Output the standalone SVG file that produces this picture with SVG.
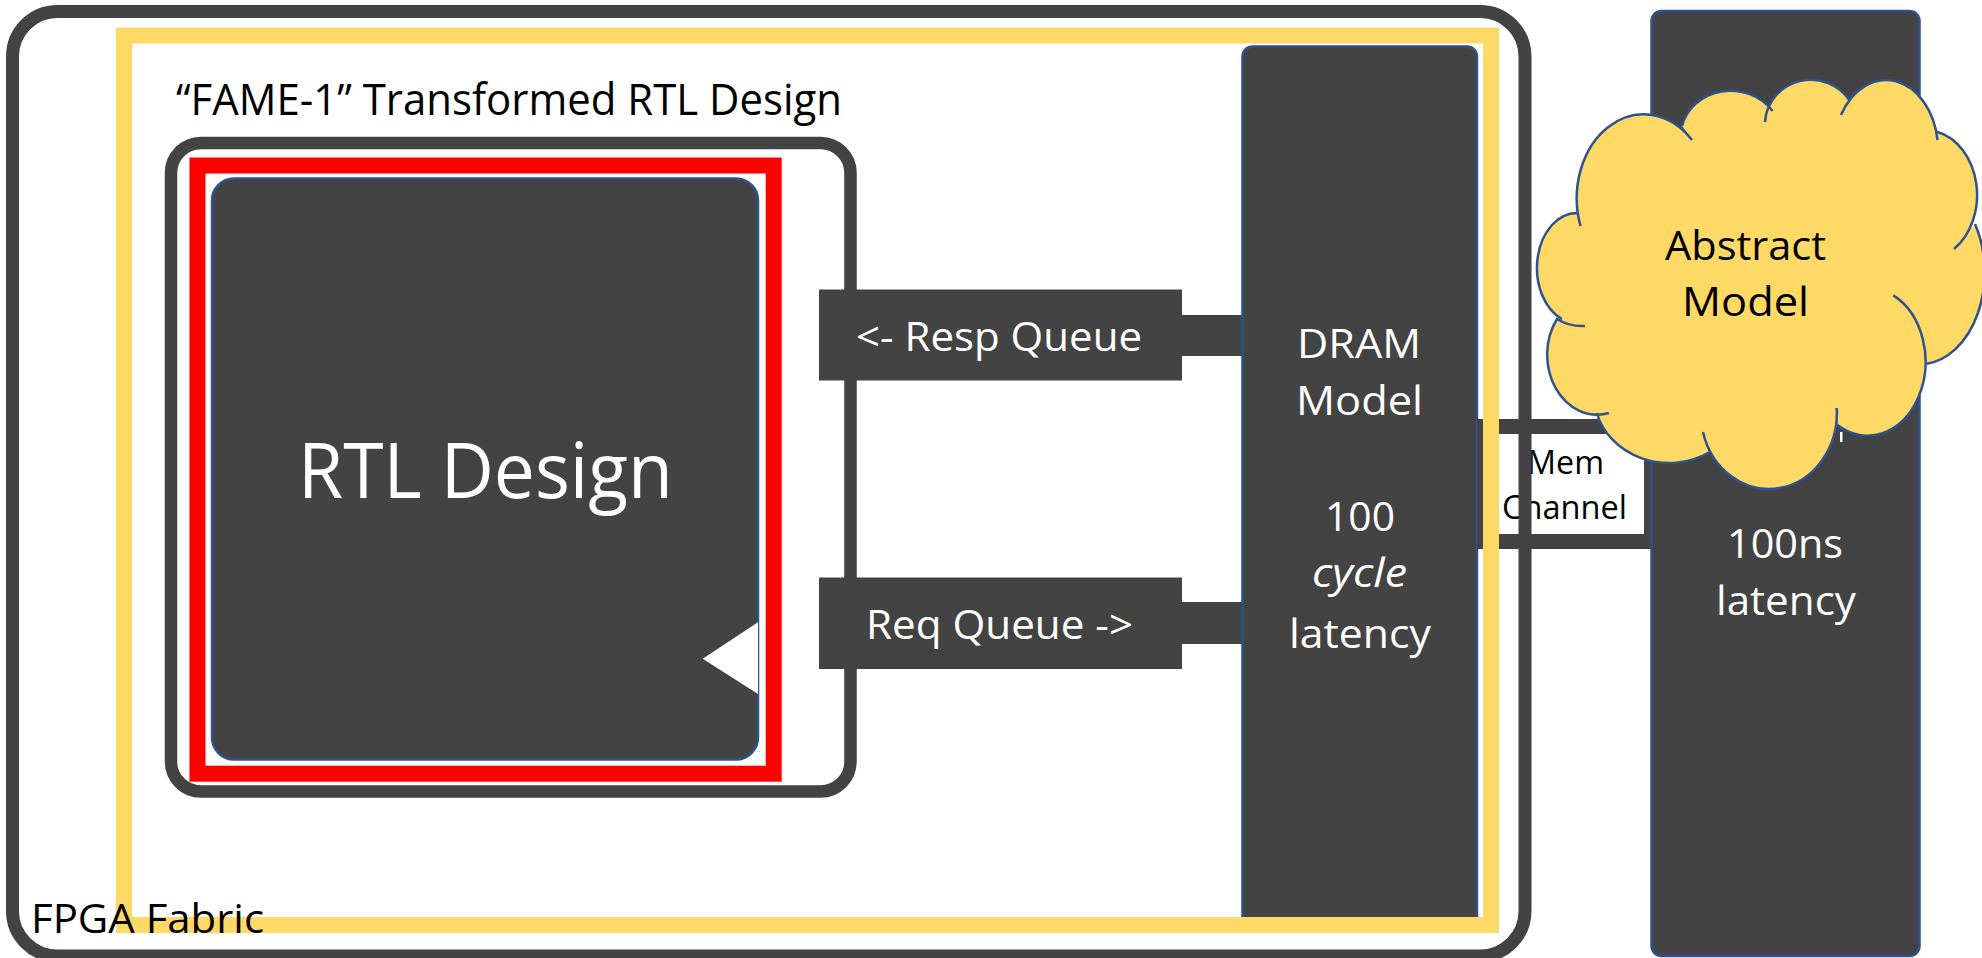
<svg xmlns="http://www.w3.org/2000/svg" width="1982" height="958" viewBox="0 0 1982 958">
<style>
text{font-family:"Open Sans","Noto Sans","Liberation Sans",sans-serif;text-anchor:start}
.w{fill:#fff}.k{fill:#000}
.m{font-size:41px}.s{font-size:32px}
.frame{fill:none;stroke:#434343}
.box{fill:#434343;stroke:#2F528F;stroke-width:2.5}
.bar{fill:#434343}
.cf{fill:#FFD966;stroke:none}
.cs{fill:none;stroke:#2F528F;stroke-width:2.5}
</style>
<rect width="1982" height="958" fill="#fff"/>
<g id="fame1-frame">
<rect class="frame" x="171" y="143" width="679.5" height="648.5" rx="30" stroke-width="12.5" fill="none"/>
<rect x="197.5" y="165.5" width="576.2" height="608.2" fill="none" stroke="#f00" stroke-width="16"/>
<text class="k" font-size="43" x="176" y="115" textLength="666" lengthAdjust="spacingAndGlyphs">“FAME-1” Transformed RTL Design</text>
</g>
<g id="connectors">
<rect class="bar" x="1180" y="315" width="64" height="41"/>
<rect class="bar" x="1180" y="602" width="64" height="42"/>
</g>
<g id="rtl-design">
<rect class="box" x="212" y="178.5" width="546" height="581" rx="22"/>
<path d="M758 622.3L702.7 658.7L758 694Z" fill="#fff"/>
<text class="w" x="298" y="498" font-size="76" textLength="375" lengthAdjust="spacingAndGlyphs">RTL Design</text>
</g>
<g id="resp-queue">
<rect class="bar" x="819" y="289.5" width="363" height="91"/>
<text class="w m" x="856" y="351" textLength="286" lengthAdjust="spacingAndGlyphs">&lt;- Resp Queue</text>
</g>
<g id="req-queue">
<rect class="bar" x="819" y="577.5" width="363" height="91.5"/>
<text class="w m" x="866" y="639" textLength="267" lengthAdjust="spacingAndGlyphs">Req Queue -&gt;</text>
</g>
<g id="dram-model">
<rect class="box" x="1242.5" y="46.5" width="234.5" height="880" rx="10"/>
<text class="w m" x="1297" y="358" textLength="124" lengthAdjust="spacingAndGlyphs">DRAM</text>
<text class="w m" x="1296" y="414.5" textLength="127" lengthAdjust="spacingAndGlyphs">Model</text>
<text class="w m" x="1325" y="531" textLength="70" lengthAdjust="spacingAndGlyphs">100</text>
<text class="w m" x="1312" y="587" font-style="italic" textLength="95" lengthAdjust="spacingAndGlyphs">cycle</text>
<text class="w m" x="1289" y="648" textLength="142" lengthAdjust="spacingAndGlyphs">latency</text>
</g>
<g id="mem-channel">
<rect x="1484.5" y="426.5" width="167" height="115" fill="#fff" stroke="#434343" stroke-width="15"/>
<text class="k s" x="1527" y="474" textLength="77" lengthAdjust="spacingAndGlyphs">Mem</text>
<text class="k s" x="1502" y="518.5" textLength="125" lengthAdjust="spacingAndGlyphs">Channel</text>
</g>
<g id="fame1-boundary">
<rect x="124" y="35.5" width="1367" height="889.5" fill="none" stroke="#FFD966" stroke-width="16"/>
</g>
<g id="fpga-fabric">
<rect class="frame" x="12.5" y="11.5" width="1512.5" height="944.5" rx="45" stroke-width="13"/>
<text class="k m" x="31" y="933" textLength="233" lengthAdjust="spacingAndGlyphs">FPGA Fabric</text>
</g>
<g id="host-dram">
<rect class="box" x="1651.5" y="11" width="268" height="945" rx="10"/>
<rect x="1840" y="432" width="2.5" height="10" fill="#fff"/>
<text class="w m" x="1727" y="558" textLength="116" lengthAdjust="spacingAndGlyphs">100ns</text>
<text class="w m" x="1716" y="615" textLength="140" lengthAdjust="spacingAndGlyphs">latency</text>
</g>
<g id="abstract-model">
<path class="cf" d="M1562 319A40 55 0 0 1 1577 213L1580.5 226A67 84 0 0 1 1692 140L1682 126A50 45 0 0 1 1772.5 111L1765 122A46 45 0 0 1 1850 101L1841 115A52 70 0 0 1 1937.5 140L1937 131.7A52 65 0 0 1 1954 249L1975 224A65 92 0 0 1 1927 363.7L1893.3 295.4A58 74 0 1 1 1837.5 425L1836.7 408A68 76 0 0 1 1703 432L1709 452.5A75 68 0 0 1 1596.7 413L1609 413A50 60 0 0 1 1557 319Z"/>
<path class="cs" d="M1562 319A40 55 0 0 1 1577 213M1580.5 226A67 84 0 0 1 1692 140M1682 126A50 45 0 0 1 1772.5 111M1765 122A46 45 0 0 1 1850 101M1841 115A52 70 0 0 1 1937.5 140M1937 131.7A52 65 0 0 1 1954 249M1975 224A65 92 0 0 1 1927 363.7M1893.3 295.4A58 74 0 1 1 1837.5 425M1836.7 408A68 76 0 0 1 1703 432M1709 452.5A75 68 0 0 1 1596.7 413M1609 413A50 60 0 0 1 1557 319Q1570 327 1585 326"/>
<text class="k m" x="1665" y="260" textLength="161" lengthAdjust="spacingAndGlyphs">Abstract</text>
<text class="k m" x="1682" y="316" textLength="127" lengthAdjust="spacingAndGlyphs">Model</text>
</g>
</svg>
